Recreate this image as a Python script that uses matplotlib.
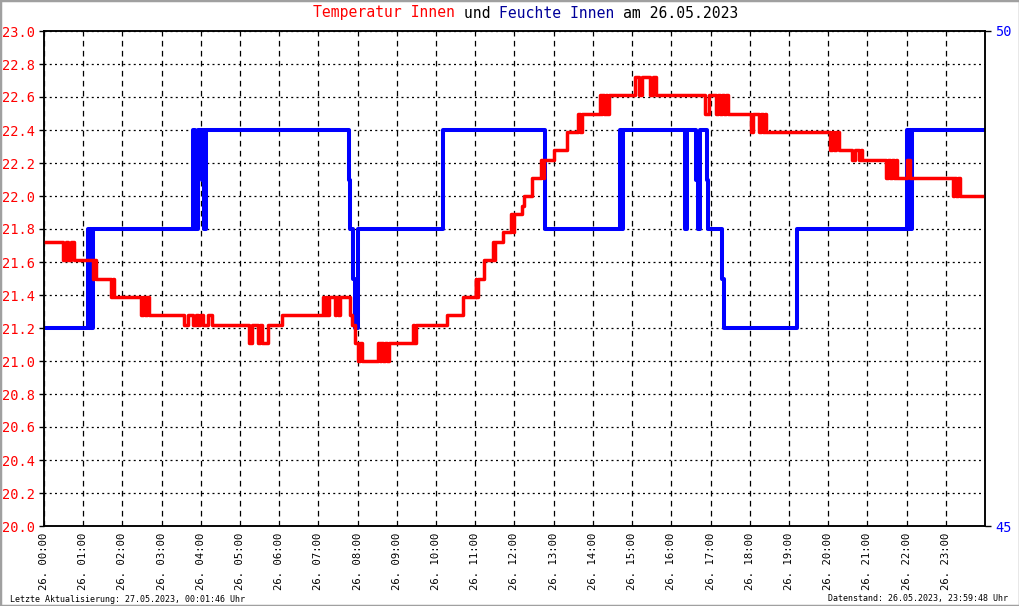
import matplotlib.pyplot as plt
from matplotlib.patches import Rectangle

# Temperatur Innen (°C), Zeit in Stunden, Stufen ab dem jeweiligen Zeitpunkt
temp_t = [0.00, 0.48, 0.55, 0.62, 0.70, 0.76,
          1.25, 1.28, 1.32, 1.71, 1.75, 1.79,
          2.47, 2.52, 2.58, 2.63, 2.68,
          3.57, 3.67, 3.80, 3.88, 3.92, 3.97, 4.05, 4.18, 4.28,
          5.22, 5.30, 5.45, 5.50, 5.55, 5.71, 6.06,
          7.11, 7.15, 7.18, 7.22, 7.26, 7.41, 7.45, 7.49, 7.55,
          7.80, 7.86, 7.92, 8.02, 8.06, 8.10,
          8.51, 8.56, 8.60, 8.65, 8.69, 8.74, 8.79,
          9.40, 9.44, 9.48, 10.27, 10.68,
          11.01, 11.03, 11.06, 11.22, 11.44, 11.47, 11.50, 11.71,
          11.92, 11.96, 11.99, 12.18, 12.25, 12.44, 12.68, 12.72, 12.76,
          13.02, 13.33, 13.62, 13.66, 13.71,
          14.17, 14.20, 14.24, 14.28, 14.33, 14.37, 14.40,
          15.08, 15.18, 15.26, 15.46, 15.52, 15.62,
          16.87, 16.97, 17.15, 17.20, 17.25, 17.30, 17.35, 17.40, 17.45,
          18.04, 18.09, 18.24, 18.29, 18.34, 18.38, 18.42,
          20.05, 20.10, 20.15, 20.20, 20.27,
          20.61, 20.69, 20.79, 20.83, 20.87,
          21.48, 21.52, 21.57, 21.62, 21.68, 21.72, 21.76,
          22.01, 22.08,
          23.18, 23.22, 23.27, 23.31, 23.36, 24.00]
temp_v = [21.72, 21.61, 21.72, 21.61, 21.72, 21.61,
          21.50, 21.61, 21.50, 21.39, 21.50, 21.39,
          21.28, 21.39, 21.28, 21.39, 21.28,
          21.22, 21.28, 21.22, 21.28, 21.22, 21.28, 21.22, 21.28, 21.22,
          21.11, 21.22, 21.11, 21.22, 21.11, 21.22, 21.28,
          21.39, 21.28, 21.39, 21.28, 21.39, 21.28, 21.39, 21.28, 21.39,
          21.28, 21.22, 21.11, 21.00, 21.11, 21.00,
          21.11, 21.00, 21.11, 21.00, 21.11, 21.00, 21.11,
          21.22, 21.11, 21.22, 21.28, 21.39,
          21.50, 21.39, 21.50, 21.61, 21.72, 21.61, 21.72, 21.78,
          21.89, 21.78, 21.89, 21.94, 22.00, 22.11, 22.22, 22.11, 22.22,
          22.28, 22.39, 22.50, 22.39, 22.50,
          22.61, 22.50, 22.61, 22.50, 22.61, 22.50, 22.61,
          22.72, 22.61, 22.72, 22.61, 22.72, 22.61,
          22.50, 22.61, 22.50, 22.61, 22.50, 22.61, 22.50, 22.61, 22.50,
          22.39, 22.50, 22.39, 22.50, 22.39, 22.50, 22.39,
          22.28, 22.39, 22.28, 22.39, 22.28,
          22.22, 22.28, 22.22, 22.28, 22.22,
          22.11, 22.22, 22.11, 22.22, 22.11, 22.22, 22.11,
          22.22, 22.11,
          22.00, 22.11, 22.00, 22.11, 22.00, 22.00]

# Feuchte Innen (%)
hum_t = [0.00, 1.12, 1.15, 1.18, 1.21, 1.24,
         3.80, 3.86, 3.93, 4.02, 4.05, 4.08, 4.13,
         7.78, 7.81, 7.87, 7.92, 8.02,
         10.17, 12.77, 14.70, 14.73, 14.76,
         16.36, 16.40, 16.64, 16.67, 16.72, 16.90, 16.94,
         17.30, 17.34, 19.21,
         22.01, 22.04, 22.08, 22.10, 22.13, 24.00]
hum_v = [47, 48, 47, 48, 47, 48,
         49, 48, 49, 48.5, 49, 48, 49,
         48.5, 48, 47.5, 47, 48,
         49, 48, 49, 48, 49,
         48, 49, 48.5, 48, 49, 48.5, 48,
         47.5, 47, 48,
         49, 48, 49, 48, 49, 49]

hours = list(range(24))
hour_labels = ['26. %02d:00' % h for h in hours]
temp_ticks = [20.0 + 0.2 * i for i in range(16)]

mono = 'DejaVu Sans Mono'
W, H = 1020, 606
fig = plt.figure(figsize=(W / 100, H / 100), dpi=100)
fig.patch.set_facecolor('white')
ax = fig.add_axes([44 / W, 80 / H, 941 / W, 495 / H])
ax2 = ax.twinx()

ax.set_xlim(0, 24)
ax.set_ylim(20, 23)
ax2.set_ylim(45, 50)

ax.set_xticks(hours)
ax.set_xticklabels(hour_labels, rotation=90, fontsize=7.6, family=mono,
                   va='top', ha='center')
ax.tick_params(axis='x', length=0, pad=4.5)

ax.set_yticks(temp_ticks)
ax.set_yticklabels(['%.1f' % v for v in temp_ticks], color='red',
                   fontsize=9.8, family=mono)
ax.tick_params(axis='y', length=3.8, width=1, pad=2.5)

ax2.set_yticks([45, 50])
ax2.set_yticklabels(['45', '50'], color='#0000ff', fontsize=9.8, family=mono)
ax2.tick_params(axis='y', length=4.5, width=1, pad=3)

ax.xaxis.grid(True, color='black', lw=0.9, linestyle=(0, (4.5, 3.5)))
ax.yaxis.grid(True, color='black', lw=0.9, linestyle=(0, (1.6, 2.6)))
ax.set_axisbelow(True)

for a in (ax, ax2):
    for s in a.spines.values():
        s.set_linewidth(1.1)
        s.set_color('black')

# Feuchte auf der rechten Skala, aber unter der Temperatur gezeichnet
ax.step(hum_t, hum_v, where='post', color='#0000ff', lw=2.9,
        transform=ax2.transData, zorder=2)
ax.step(temp_t, temp_v, where='post', color='#ff0000', lw=2.5, zorder=3)
ax.set_xlim(0, 24)
ax.set_ylim(20, 23)

# Titel mehrfarbig, Monospace-Schrift
parts = [('Temperatur Innen ', '#ff0000'), ('und ', 'black'),
         ('Feuchte Innen ', '#000099'), ('am 26.05.2023', 'black')]
tsize = 10.6
cw = 0.602 * tsize * 100 / 72
x0 = 313
for txt, col in parts:
    fig.text(x0 / W, 1 - 13 / H, txt, color=col, fontsize=tsize, family=mono,
             ha='left', va='center')
    x0 += len(txt) * cw

fig.text(10 / W, 1 - 599 / H, 'Letzte Aktualisierung: 27.05.2023, 00:01:46 Uhr',
         fontsize=6.0, family=mono, ha='left', va='center')
fig.text(1008 / W, 1 - 599 / H, 'Datenstand: 26.05.2023, 23:59:48 Uhr',
         fontsize=6.0, family=mono, ha='right', va='center')

fig.patches.append(Rectangle((0, 0), 1, 1, transform=fig.transFigure,
                             fill=False, edgecolor='#a0a0a0', lw=2.5))

fig.savefig('out.png', dpi=100)
